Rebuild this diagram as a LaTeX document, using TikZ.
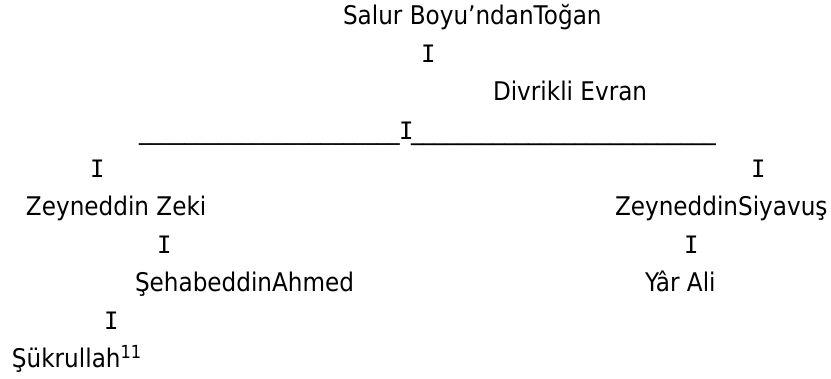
\documentclass[tikz,border=0pt]{standalone}
\usepackage{fontspec}
\setmainfont{DejaVu Sans}[FakeStretch=0.9]
\newfontfamily\barfont{DejaVu Sans Mono}
\begin{document}
\begin{tikzpicture}[x=1pt,y=-1pt,
  txt/.style={anchor=base west,inner sep=0pt,outer sep=0pt,font=\fontsize{25.7}{30}\selectfont},
  bar/.style={anchor=base west,inner sep=0pt,outer sep=0pt,font=\barfont\fontsize{24}{30}\selectfont},
  lnl/.style={anchor=base west,inner sep=0pt,outer sep=0pt,font=\fontsize{25.2}{30}\selectfont},
  lnr/.style={anchor=base west,inner sep=0pt,outer sep=0pt,font=\fontsize{26.05}{30}\selectfont}]
\useasboundingbox[fill=white] (0,0) rectangle (831,379);
% generation 1
\node[txt] (toghan) at (343,25) {Salur Boyu’ndanToğan};
\node[bar] (b1) at (421,63) {I};
\node[txt] (evran) at (493,101) {Divrikli Evran};
% branching line
\node[lnl] (lineL) at (139,140) {\_\_\_\_\_\_\_\_\_\_\_\_\_\_\_\_\_\_\_\_\_\_\_};
\node[bar] (b2) at (399,140) {I};
\node[lnr] (lineR) at (411,140) {\_\_\_\_\_\_\_\_\_\_\_\_\_\_\_\_\_\_\_\_\_\_\_\_\_\_};
% branches
\node[bar] (b3) at (90,178) {I};
\node[bar] (b4) at (751,178) {I};
\node[txt] (zeki) at (26,216) {Zeyneddin Zeki};
\node[txt] (siyavus) at (615,216) {ZeyneddinSiyavuş};
\node[bar] (b5) at (157,254) {I};
\node[bar] (b6) at (684,254) {I};
\node[txt] (ahmed) at (135,292) {ŞehabeddinAhmed};
\node[txt] (yarali) at (645,292) {Yâr Ali};
\node[bar] (b7) at (104,330) {I};
\node[txt] (sukrullah) at (12,368) {Şükrullah\textsuperscript{11}};
\end{tikzpicture}
\end{document}
